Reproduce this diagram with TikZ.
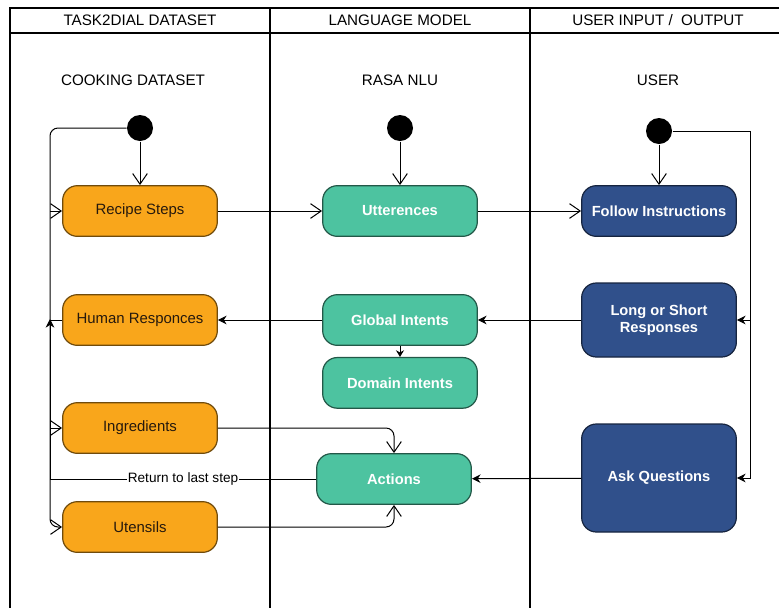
\documentclass[tikz,border=0pt]{standalone}
\usepackage{fontspec}
\setmainfont{Liberation Sans}
\usetikzlibrary{arrows.meta,positioning}
\definecolor{dataorange}{HTML}{F9A61B}
\definecolor{modelteal}{HTML}{4DC3A0}
\definecolor{usernavy}{HTML}{30508B}

\begin{document}
\begin{tikzpicture}[x=0.75pt,y=-0.75pt,line width=0.75pt,
    lane/.style={line width=1.5pt},
    head/.style={font=\fontsize{11.4}{13}\selectfont},
    state/.style={draw=#1!45!black, fill=#1, line width=0.9pt, rounded corners=11pt,
        minimum width=116pt, minimum height=38pt, inner sep=2pt, align=center,
        font=\fontsize{11}{13}\selectfont\bfseries, text=white},
    start/.style={circle, fill=black, minimum size=19.5pt, inner sep=0pt},
    open/.style={-{Straight Barb[length=8pt,width=11pt]}},
    solid/.style={-{Stealth[length=6.5pt,width=6.5pt]}},
    node distance=8.25pt]
    \useasboundingbox (0,0) rectangle (779,608);
    \draw[lane] (779,8) -- (10,8) -- (10,608);
    \draw[lane] (10,33) -- (779,33);
    \draw[lane] (270,8) -- (270,608);
    \draw[lane] (530,8) -- (530,608);
    \node[head] (H1) at (140,20) {TASK2DIAL DATASET};
    \node[head] (H2) at (400,20) {LANGUAGE MODEL};
    \node[head] (H3) at (658,20) {USER INPUT /\ \ OUTPUT};
    \node[head] (CD) at (133,80) {COOKING DATASET};
    \node[head] (NLU) at (400,80) {RASA NLU};
    \node[head] (USR) at (658,80) {USER};
    \node[start] (S1) at (140,128) {};
    \node[start] (S2) at (400,128) {};
    \node[start] (S3) at (659,131) {};
    \node[state=dataorange, text=black!80!brown, font=\fontsize{11.2}{13}\selectfont] (RS) at (140,211) {Recipe Steps};
    \node[state=dataorange, text=black!80!brown, font=\fontsize{11.2}{13}\selectfont] (HR) at (140,320) {Human Responces};
    \node[state=dataorange, text=black!80!brown, font=\fontsize{11.2}{13}\selectfont] (ING) at (140,428) {Ingredients};
    \node[state=dataorange, text=black!80!brown, font=\fontsize{11.2}{13}\selectfont] (UTS) at (140,527) {Utensils};
    \node[state=modelteal] (UTT) at (400,211) {Utterences};
    \node[state=modelteal] (GI) at (400,320) {Global Intents};
    \node[state=modelteal, below=of GI] (DI) {Domain Intents};
    \node[state=modelteal] (ACT) at (394,479) {Actions};
    \node[state=usernavy] (FI) at (659,211) {Follow Instructions};
    \node[state=usernavy, minimum height=55.5pt] (LS) at (659,320) {Long or Short\\Responses};
    \node[state=usernavy, minimum height=81pt] (AQ) at (659,478) {Ask Questions};
    \coordinate (LT) at (50,128);
    \coordinate (RT) at (750,131);
    \draw[open] (S1) -- (RS);
    \draw[open] (S2) -- (UTT);
    \draw[open] (S3) -- (FI);
    \draw[open] (S1.west) [rounded corners=6pt] -- (LT) -- (UTS.west -| LT) [sharp corners] -- (UTS.west);
    \draw[open] (RS.west -| LT) -- (RS.west);
    \draw[open] (ING.west -| LT) -- (ING.west);
    \draw (HR.west) -- (HR.west -| LT);
    \draw[solid] (ACT.west) -- node[fill=white, inner sep=0.5pt, font=\fontsize{10.2}{12}\selectfont] {Return to last step} (ACT.west -| LT) -- ([yshift=0.75pt]HR.west -| LT);
    \draw[open] (RS) -- (UTT);
    \draw[open] (UTT) -- (FI);
    \draw[solid] (LS) -- (GI);
    \draw[solid] (GI) -- (HR);
    \draw[-{Stealth[length=5pt,width=6pt]}] (GI) -- (DI);
    \draw[solid] (AQ) -- (ACT);
    \draw[open, rounded corners=6pt] (ING.east) -| (ACT.north);
    \draw[open, rounded corners=6pt] (UTS.east) -| (ACT.south);
    \draw[solid] (S3.east) -- (RT) -- (AQ.east -| RT) -- (AQ.east);
    \draw[solid] (LS.east -| RT) -- (LS.east);
\end{tikzpicture}
\end{document}
